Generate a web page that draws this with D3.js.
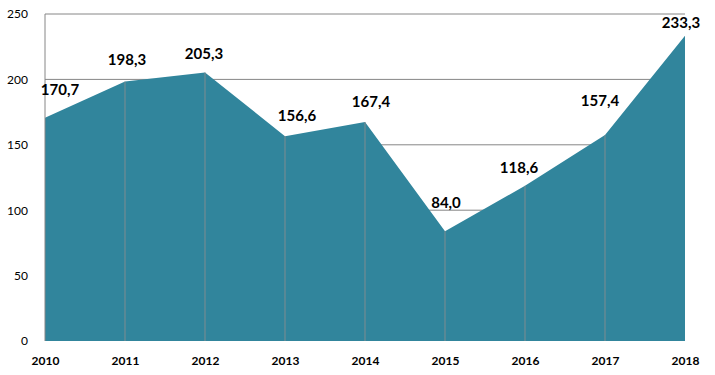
<!DOCTYPE html>
<html>
<head>
<meta charset="utf-8">
<script src="https://cdn.jsdelivr.net/npm/d3@7"></script>
<style>
  body { margin: 0; background: #fff; }
  text { font-family: Lato, 'Open Sans', sans-serif; }
</style>
</head>
<body>
<div id="chart"></div>
<script>
// chart values
const years = ['2010', '2011', '2012', '2013', '2014', '2015', '2016', '2017', '2018']
const values = [170.7, 198.3, 205.3, 156.6, 167.4, 84.0, 118.6, 157.4, 233.3]
const yTicks = [0, 50, 100, 150, 200, 250]

// label nudges (px) so the value labels sit where the original put them
const labelDx = [15, 2, -1, 12, 6, 1, -6, -5, -4]
const labelDy = [-23, -17, -13, -15, -15, -23, -13, -29, -8]

const margin = { top: 14, right: 30, bottom: 34, left: 45 }
const width = 715 - margin.left - margin.right
const height = 375 - margin.top - margin.bottom

const svg = d3.select('#chart')
  .append('svg')
  .attr('width', 715)
  .attr('height', 375)
  .append('g')
  .attr('transform', 'translate(' + margin.left + ',' + margin.top + ')')

const data = years.map(function (y, i) { return { year: y, value: values[i] } })

const x = d3.scalePoint()
  .domain(years)
  .range([0, width])

const y = d3.scaleLinear()
  .domain([0, 250])
  .range([height, 0])

// horizontal gridlines
svg.append('g')
  .selectAll('line')
  .data(yTicks.filter(function (t) { return t > 0 }))
  .enter()
  .append('line')
  .attr('x1', 0)
  .attr('x2', width)
  .attr('y1', function (d) { return y(d) })
  .attr('y2', function (d) { return y(d) })
  .attr('stroke', '#868686')
  .attr('stroke-width', 1)

// the area
svg.append('path')
  .datum(data)
  .attr('fill', '#31859c')
  .attr('d', d3.area()
    .x(function (d) { return x(d.year) })
    .y0(y(0))
    .y1(function (d) { return y(d.value) })
  )

// drop lines inside the area
svg.append('g')
  .selectAll('line')
  .data(data.slice(1, -1))
  .enter()
  .append('line')
  .attr('x1', function (d) { return x(d.year) })
  .attr('x2', function (d) { return x(d.year) })
  .attr('y1', function (d) { return y(d.value) })
  .attr('y2', y(0))
  .attr('stroke', '#7f8c90')
  .attr('stroke-width', 1)

// left axis line
svg.append('line')
  .attr('x1', 0).attr('x2', 0)
  .attr('y1', 0).attr('y2', height)
  .attr('stroke', '#868686')

// Y axis labels
const yAxis = svg.append('g')
  .call(d3.axisLeft(y).tickValues(yTicks).tickSize(0).tickPadding(17))
yAxis.select('.domain').remove()
yAxis.selectAll('text')
  .attr('font-size', 12)
  .attr('fill', '#000')
  .style('font-family', 'Lato, sans-serif')

// X axis labels
const xAxis = svg.append('g')
  .attr('transform', 'translate(0,' + height + ')')
  .call(d3.axisBottom(x).tickSize(0).tickPadding(15))
xAxis.select('.domain').remove()
xAxis.selectAll('text')
  .attr('font-size', 12)
  .attr('font-weight', 'bold')
  .attr('fill', '#000')
  .style('font-family', 'Lato, sans-serif')

// value labels
svg.append('g')
  .selectAll('text')
  .data(data)
  .enter()
  .append('text')
  .attr('x', function (d, i) { return x(d.year) + labelDx[i] })
  .attr('y', function (d, i) { return y(d.value) + labelDy[i] })
  .attr('text-anchor', 'middle')
  .attr('font-size', 15)
  .attr('font-weight', 'bold')
  .attr('fill', '#000')
  .text(function (d) { return d.value.toFixed(1).replace('.', ',') })
</script>
</body>
</html>
